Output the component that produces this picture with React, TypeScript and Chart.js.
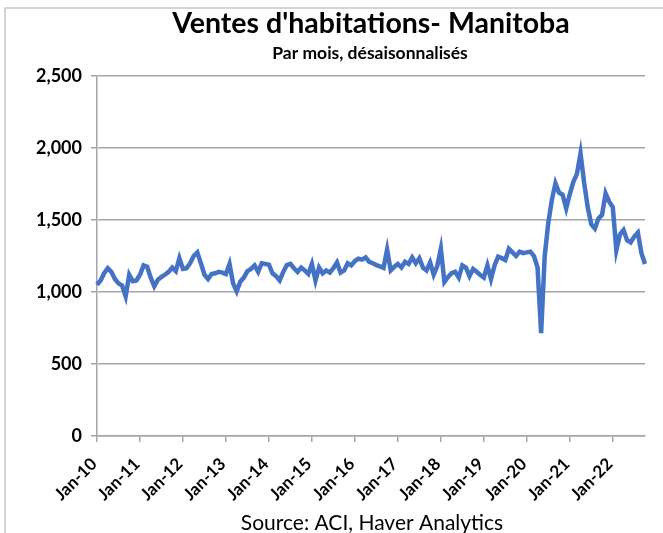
import React, { useEffect, useRef } from "react";
import { Chart, registerables } from "chart.js";

Chart.register(...registerables);

const TITLE = "Ventes d'habitations- Manitoba";
const SUBTITLE = "Par mois, désaisonnalisés";
const SOURCE = "Source: ACI, Haver Analytics";

const MONTHS = ["Jan", "Feb", "Mar", "Apr", "May", "Jun", "Jul", "Aug", "Sep", "Oct", "Nov", "Dec"];
const START_YEAR = 2010;
const N_POINTS = 154; // Jan-10 .. Oct-22

// Monthly home sales, seasonally adjusted
const sales2010 = [1050, 1080, 1130, 1165, 1140, 1090, 1060, 1045, 970, 1120, 1075, 1080];
const sales2011 = [1120, 1185, 1175, 1100, 1040, 1085, 1105, 1120, 1140, 1170, 1145, 1235];
const sales2012 = [1160, 1165, 1200, 1250, 1275, 1200, 1120, 1090, 1125, 1130, 1140, 1135];
const sales2013 = [1125, 1195, 1060, 1005, 1072, 1100, 1145, 1160, 1185, 1140, 1200, 1195];
const sales2014 = [1190, 1130, 1110, 1080, 1140, 1187, 1195, 1165, 1140, 1170, 1150, 1125];
const sales2015 = [1195, 1080, 1170, 1130, 1150, 1135, 1165, 1205, 1135, 1150, 1200, 1185];
const sales2016 = [1215, 1232, 1225, 1240, 1210, 1200, 1187, 1178, 1168, 1295, 1150, 1175];
const sales2017 = [1195, 1170, 1210, 1195, 1240, 1200, 1235, 1170, 1150, 1205, 1120, 1180];
const sales2018 = [1300, 1070, 1105, 1130, 1140, 1100, 1185, 1170, 1110, 1160, 1140, 1118];
const sales2019 = [1100, 1185, 1090, 1185, 1245, 1235, 1222, 1300, 1275, 1250, 1280, 1270];
const sales2020 = [1275, 1280, 1250, 1170, 715, 1250, 1480, 1640, 1755, 1690, 1675, 1580];
const sales2021 = [1680, 1765, 1820, 1963, 1760, 1590, 1470, 1440, 1510, 1535, 1685, 1627];
const sales2022 = [1590, 1290, 1400, 1430, 1360, 1345, 1385, 1412, 1270, 1194];

const salesValues = [
  ...sales2010, ...sales2011, ...sales2012, ...sales2013, ...sales2014, ...sales2015,
  ...sales2016, ...sales2017, ...sales2018, ...sales2019, ...sales2020, ...sales2021, ...sales2022,
];

const monthLabels = Array.from({ length: N_POINTS }, (_, i) => {
  const y = START_YEAR + Math.floor(i / 12);
  return `${MONTHS[i % 12]}-${String(y % 100).padStart(2, "0")}`;
});

const Y_MIN = 0;
const Y_MAX = 2500;
const Y_STEP = 500;

const FONT = "Lato, 'Open Sans', sans-serif";
const GRID = "#a6a6a6";

const framePlugin = {
  id: "frameAndTexts",
  afterDraw(chart: any) {
    const ctx = chart.ctx;
    ctx.save();
    ctx.strokeStyle = "#c8c8c8";
    ctx.lineWidth = 1.5;
    ctx.beginPath();
    ctx.moveTo(5, 533);
    ctx.lineTo(5, 8);
    ctx.lineTo(663, 8);
    ctx.stroke();

    ctx.fillStyle = "#000";
    ctx.textAlign = "center";
    ctx.textBaseline = "alphabetic";
    ctx.font = `bold 28.5px ${FONT}`;
    ctx.fillText(TITLE, 371, 33);
    ctx.font = `bold 17.5px ${FONT}`;
    ctx.fillText(SUBTITLE, 370, 59);
    ctx.font = `21px ${FONT}`;
    ctx.fillText(SOURCE, 372, 530);
    ctx.restore();
  },
};

export default function App() {
  const ref = useRef<HTMLCanvasElement | null>(null);

  useEffect(() => {
    if (!ref.current) return;
    const chart = new Chart(ref.current, {
      type: "line",
      data: {
        labels: monthLabels,
        datasets: [
          {
            data: salesValues,
            borderColor: "#4472C4",
            backgroundColor: "#4472C4",
            borderWidth: 4.5,
            pointRadius: 0,
            tension: 0,
            fill: false,
          },
        ],
      },
      options: {
        responsive: false,
        animation: false,
        layout: { padding: { top: 76, right: 18, bottom: 26, left: 0 } },
        plugins: {
          legend: { display: false },
          tooltip: { enabled: false },
          title: { display: false },
        },
        scales: {
          x: {
            type: "category",
            offset: false,
            afterFit: (s: any) => {
              s.height = 71;
            },
            grid: {
              display: true,
              drawOnChartArea: false,
              drawTicks: true,
              tickLength: 6,
              color: GRID,
              lineWidth: 1.5,
            },
            border: { display: true, color: GRID, width: 1.5 },
            ticks: {
              autoSkip: false,
              maxRotation: 45,
              minRotation: 45,
              color: "#000",
              padding: 12,
              labelOffset: -3,
              font: { family: FONT, size: 17, weight: "bold" },
              callback: (_v: any, i: number) => (i % 12 === 0 ? monthLabels[i] : null),
            },
          },
          y: {
            min: Y_MIN,
            max: Y_MAX,
            afterFit: (s: any) => {
              s.width = 97;
            },
            grid: {
              color: GRID,
              lineWidth: 1.5,
              drawTicks: true,
              tickLength: 6,
            },
            border: { display: true, color: GRID, width: 1.5 },
            ticks: {
              stepSize: Y_STEP,
              color: "#000",
              padding: 9,
              font: { family: FONT, size: 18, weight: "bold" },
              callback: (v: any) => Number(v).toLocaleString("en-US"),
            },
          },
        },
      },
      plugins: [framePlugin],
    });
    return () => chart.destroy();
  }, []);

  return (
    <div style={{ position: "absolute", left: 0, top: 0, width: 663, height: 533, background: "#fff" }}>
      <canvas ref={ref} width={663} height={533} style={{ display: "block" }} />
    </div>
  );
}
